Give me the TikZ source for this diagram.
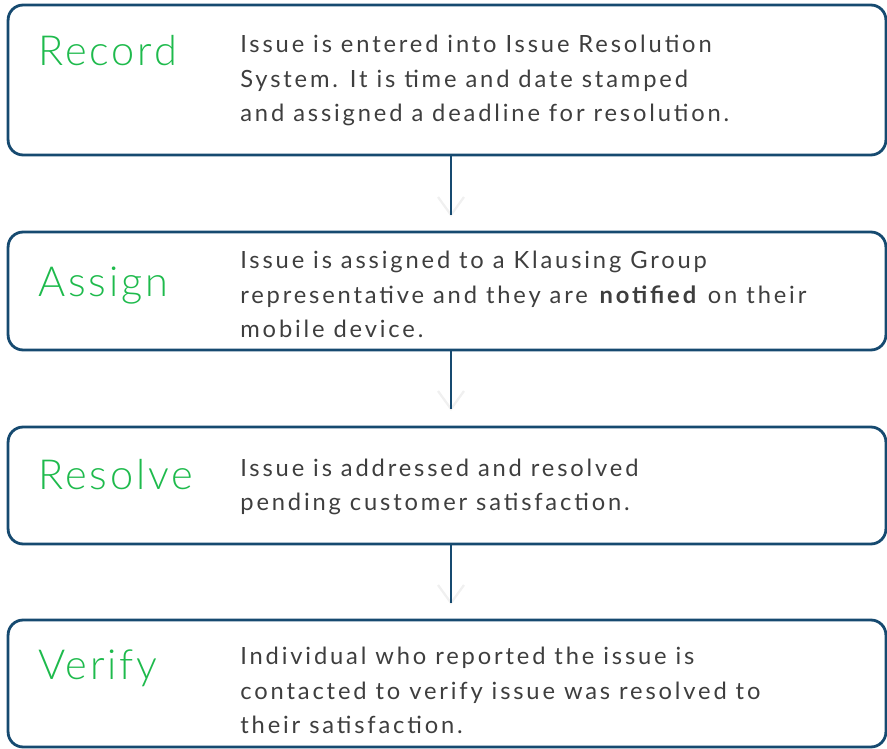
\documentclass[tikz,border=0pt]{standalone}
\usepackage{fontspec}
\setmainfont{Lato}
\IfFontExistsTF{Lato Light}
  {\newfontfamily\titlefont[LetterSpace=7]{Lato Light}}
  {\newfontfamily\titlefont[LetterSpace=7]{Lato}}
\newfontfamily\bodyfont[LetterSpace=12]{Lato}
\definecolor{boxblue}{RGB}{22,74,112}
\definecolor{stepgreen}{RGB}{30,186,76}
\definecolor{bodygray}{RGB}{62,62,62}
\tikzset{
  box/.style={draw=boxblue, line width=1.6pt, rounded corners=0.3cm, minimum width=17.56cm, inner sep=0pt},
  title/.style={anchor=base west, inner sep=0pt, text=stepgreen, font=\titlefont\fontsize{23.6}{28}\selectfont},
  body/.style={anchor=base west, inner sep=0pt, align=left, text=bodygray, font=\bodyfont\fontsize{13.5}{19.9}\selectfont},
  link/.style={draw=boxblue, line width=1.6pt},
  tip/.style={draw=gray!12, line width=1.3pt}
}

\begin{document}
\begin{tikzpicture}[x=0.02cm,y=-0.02cm]
	\useasboundingbox (0,0) rectangle (887,749);
	% the four boxes
	\node[box, minimum height=3cm] (rec) at (447,80) {};
	\node[box, minimum height=2.36cm] (asg) at (447,291) {};
	\node[box, minimum height=2.34cm] (res) at (447,485.5) {};
	\node[box, minimum height=2.54cm] (ver) at (447,683.5) {};
	% titles
	\node[title] (recT) at (38,66) {Record};
	\node[title] (asgT) at (38,297) {Assign};
	\node[title] (resT) at (38,490) {Resolve};
	\node[title] (verT) at (38,680) {Verify};
	% texts (anchored at the last line)
	\node[body] (recB) at (240,122) {Issue is entered into Issue Resolution\\System.  It is time and date stamped\\and assigned a deadline for resolution.};
	\node[body] (asgB) at (240,338) {Issue is assigned to a Klausing Group\\representative and they are \textbf{notified} on their\\mobile device.};
	\node[body] (resB) at (240,511) {Issue is addressed and resolved\\pending customer satisfaction.};
	\node[body] (verB) at (240,734) {Individual who reported the issue is\\contacted to verify issue was resolved to\\their satisfaction.};
	% connectors
	\coordinate (e1) at (451,215);
	\coordinate (e2) at (451,409);
	\coordinate (e3) at (451,603);
	\draw[tip] (e1) ++(-13,-18) -- (e1) -- ++(13,-18);
	\draw[tip] (e2) ++(-13,-18) -- (e2) -- ++(13,-18);
	\draw[tip] (e3) ++(-13,-18) -- (e3) -- ++(13,-18);
	\draw[link] (e1 |- rec.south) -- (e1);
	\draw[link] (e2 |- asg.south) -- (e2);
	\draw[link] (e3 |- res.south) -- (e3);
\end{tikzpicture}
\end{document}
